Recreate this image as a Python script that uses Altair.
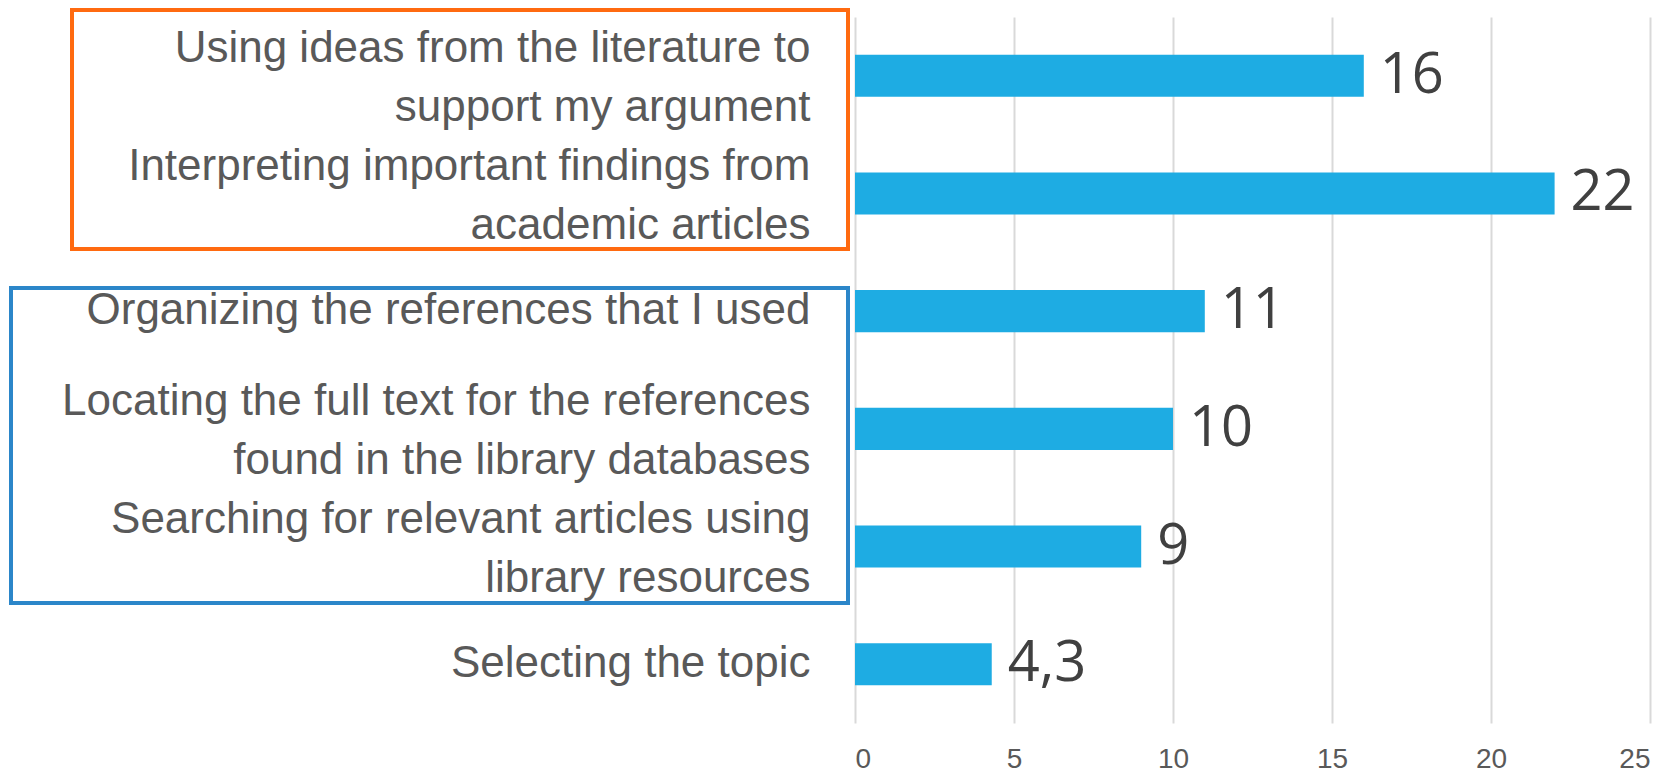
import altair as alt
import pandas as pd

categories = [
    "Using ideas from the literature to\nsupport my argument",
    "Interpreting important findings from\nacademic articles",
    "Organizing the references that I used",
    "Locating the full text for the references\nfound in the library databases",
    "Searching for relevant articles using\nlibrary resources",
    "Selecting the topic",
]
values = [16, 22, 11, 10, 9, 4.3]
value_labels = ["16", "22", "11", "10", "9", "4,3"]

df = pd.DataFrame({"cat": categories, "val": values, "lab": value_labels})

W, H = 795, 706
cat_font = "Liberation Sans"

x_scale = alt.Scale(domain=[0, 25], nice=False, zero=True)
y_scale = alt.Scale(paddingInner=0.643, paddingOuter=0.32)

y_enc = alt.Y(
    "cat:N",
    sort=None,
    scale=y_scale,
    axis=alt.Axis(
        title=None,
        domain=False,
        ticks=False,
        grid=False,
        labelExpr="split(datum.value, '\\n')",
        labelFont=cat_font,
        labelFontSize=44,
        labelLineHeight=59,
        labelColor="#595959",
        labelPadding=45,
        labelAlign="right",
        labelBaseline="middle",
        labelOffset=alt.condition("indexof(datum.value, '\\n') >= 0", alt.value(-26.5), alt.value(0)),
        labelLimit=0,
    ),
)

x_enc = alt.X(
    "val:Q",
    scale=x_scale,
    axis=alt.Axis(
        title=None,
        values=[0, 5, 10, 15, 20, 25],
        domain=False,
        ticks=False,
        grid=True,
        gridColor="#D9D9D9",
        gridWidth=2,
        labelFont=cat_font,
        labelFontSize=28,
        labelColor="#595959",
        labelPadding=22,
    ),
)

base = alt.Chart(df)

bars = base.mark_bar(color="#1EACE3").encode(y=y_enc, x=x_enc)

texts = base.mark_text(
    align="left", baseline="middle", dx=16, font="Open Sans", fontSize=56, color="#404040"
).encode(
    y=alt.Y("cat:N", sort=None, scale=y_scale),
    x=alt.X("val:Q", scale=x_scale),
    text="lab:N",
)

box_df = pd.DataFrame({"k": [0]})
orange_box = alt.Chart(box_df).mark_rect(
    fill=None, stroke="#FF6A10", strokeWidth=4
).encode(
    x=alt.value(-783), x2=alt.value(-7), y=alt.value(-7), y2=alt.value(232)
)
blue_box = alt.Chart(box_df).mark_rect(
    fill=None, stroke="#2B86C9", strokeWidth=4
).encode(
    x=alt.value(-844), x2=alt.value(-7), y=alt.value(271), y2=alt.value(586)
)

chart = (
    alt.layer(bars, texts, orange_box, blue_box)
    .properties(
        width=W,
        height=H,
        padding={"left": 847, "top": 9, "right": 20, "bottom": 53},
        autosize=alt.AutoSizeParams(type="none"),
    )
    .configure_view(stroke=None)
)

chart.save("out.html", embed_options={"renderer": "svg", "actions": False})
